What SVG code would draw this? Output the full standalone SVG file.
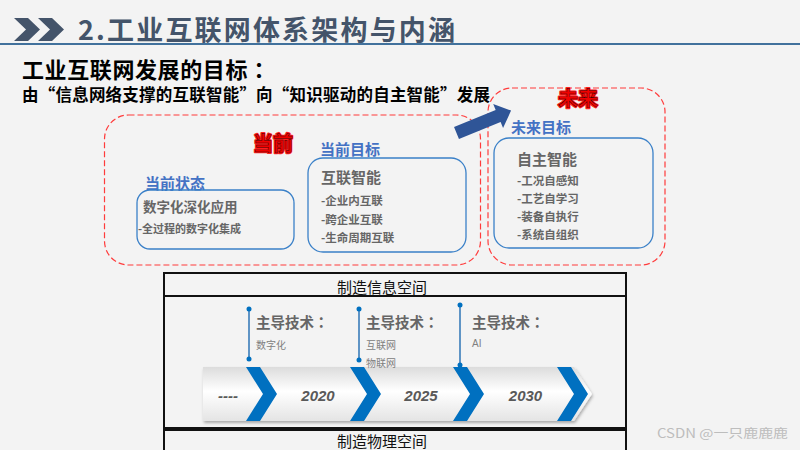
<svg xmlns="http://www.w3.org/2000/svg" width="800" height="450" viewBox="0 0 800 450">
<defs>
<style>
.cn{font-family:"Noto Sans CJK SC","Liberation Sans",sans-serif}
.tc{font-family:"Noto Sans CJK TC","Noto Sans CJK SC",sans-serif}
.hd{font-weight:bold;fill:#44546a}
.blue{font-weight:bold;fill:#4472c4;font-size:15px}
.gray{font-weight:bold;fill:#666666}
.dash{fill:none;stroke:#ff3b3b;stroke-width:1.2;stroke-dasharray:6 3}
.box{fill:none;stroke:#3a80c8;stroke-width:1.3}
.frame{fill:none;stroke:#111111;stroke-width:2}
.chev{fill:#0070c0}
.year{font-family:"Liberation Sans",Arial,sans-serif;font-weight:bold;font-style:italic;font-size:15px;fill:#595959;text-anchor:middle}
.lead{stroke:#2e75b6;stroke-width:1.5}
.dot{fill:#0070c0}
.tech{font-weight:bold;font-size:14.5px;fill:#666666}
.sub{font-size:10px;fill:#808080}
.glow{font-size:20px;font-weight:bold;fill:#ff0000;stroke:#ff2020;stroke-width:2.5;stroke-linejoin:round}
.red{font-size:20px;font-weight:bold;fill:#f00000;stroke:#3a0000;stroke-width:0.45}
</style>
<linearGradient id="band" x1="0" y1="0" x2="0" y2="1">
<stop offset="0" stop-color="#dcdcdc"/>
<stop offset="0.45" stop-color="#ffffff"/>
<stop offset="1" stop-color="#e4e4e4"/>
</linearGradient>
<filter id="sh" x="-5%" y="-20%" width="110%" height="150%">
<feDropShadow dx="1" dy="2" stdDeviation="1.5" flood-color="#000" flood-opacity="0.3"/>
</filter>
</defs>
<rect x="0" y="0" width="800" height="450" fill="#f3f3f3"/>

<g id="header">
<polygon fill="#44546a" points="14,18 28,18 40,29.5 28,41 14,41 26,29.5"/>
<polygon fill="#44546a" points="38,18 52,18 64,29.5 52,41 38,41 50,29.5"/>
<text class="cn hd" x="78" y="40" font-size="27" textLength="377" lengthAdjust="spacing">2.工业互联网体系架构与内涵</text>
<line x1="0" y1="44" x2="800" y2="44" stroke="#41719c" stroke-width="2"/>
</g>

<g id="subtitle">
<text class="cn" x="22" y="78" font-size="22" font-weight="bold" fill="#000" textLength="248" lengthAdjust="spacing">工业互联网发展的目标<tspan class="tc">：</tspan></text>
<text class="cn" x="22" y="101" font-size="16.5" font-weight="bold" fill="#000" textLength="468" lengthAdjust="spacing">由“信息网络支撑的互联智能”向“知识驱动的自主智能”发展</text>
</g>

<g id="current">
<rect class="dash" x="104.5" y="115" width="376" height="150" rx="24"/>
<text class="cn glow" x="253" y="151">当前</text>
<text class="cn red" x="253" y="151">当前</text>
</g>

<g id="current-state">
<text class="cn blue" x="145" y="189">当前状态</text>
<rect class="box" x="137" y="190" width="157" height="59" rx="13"/>
<text class="cn gray" x="143" y="212" font-size="13.5">数字化深化应用</text>
<text class="cn gray" x="138" y="233" font-size="11">-全过程的数字化集成</text>
</g>

<g id="current-goal">
<text class="cn blue" x="320" y="155">当前目标</text>
<rect class="box" x="308" y="158" width="158" height="94" rx="15"/>
<text class="cn gray" x="321" y="183" font-size="15">互联智能</text>
<text class="cn gray" x="321" y="205" font-size="11.5">-企业内互联</text>
<text class="cn gray" x="321" y="224" font-size="11.5">-跨企业互联</text>
<text class="cn gray" x="321" y="242" font-size="11.5">-生命周期互联</text>
</g>

<g id="future">
<rect class="dash" x="488" y="88" width="177" height="177" rx="24"/>
<text class="cn glow" x="558" y="106">未来</text>
<text class="cn red" x="558" y="106">未来</text>
</g>

<g id="future-goal">
<text class="cn blue" x="511" y="133">未来目标</text>
<rect class="box" x="494" y="138" width="159" height="110" rx="15"/>
<text class="cn gray" x="517" y="165" font-size="15">自主智能</text>
<text class="cn gray" x="517" y="185" font-size="11.5">-工况自感知</text>
<text class="cn gray" x="517" y="203" font-size="11.5">-工艺自学习</text>
<text class="cn gray" x="517" y="221" font-size="11.5">-装备自执行</text>
<text class="cn gray" x="517" y="239" font-size="11.5">-系统自组织</text>
</g>

<g id="connectors">
<polygon fill="#2f5597" transform="translate(456.5,133) rotate(-22.3)" points="0,-6.5 45,-6.5 45,-13 59,0 45,13 45,6.5 0,6.5"/>
</g>

<g id="frames">
<rect class="frame" x="164" y="273" width="462" height="23"/>
<rect class="frame" x="164" y="296" width="462" height="132"/>
<rect class="frame" x="164" y="430" width="462" height="30"/>
<text class="cn" x="382" y="293" font-size="15" fill="#111" text-anchor="middle">制造信息空间</text>
<text class="cn" x="382" y="447" font-size="15" fill="#111" text-anchor="middle">制造物理空间</text>
</g>

<g id="timeline">
<polygon fill="url(#band)" filter="url(#sh)" points="203,367 574,367 592,394 574,421 203,421"/>
<polygon class="chev" points="246,367 260,367 277,394 260,421 246,421 263,394"/>
<polygon class="chev" points="350,367 364,367 381,394 364,421 350,421 367,394"/>
<polygon class="chev" points="453,367 467,367 484,394 467,421 453,421 470,394"/>
<polygon class="chev" points="557,367 571,367 588,394 571,421 557,421 574,394"/>
<text class="year" x="228" y="401">----</text>
<text class="year" x="318" y="401">2020</text>
<text class="year" x="421" y="401">2025</text>
<text class="year" x="525.5" y="401">2030</text>
</g>

<g id="tech1">
<line class="lead" x1="249" y1="309" x2="249" y2="359"/>
<circle class="dot" cx="249" cy="309" r="2.5"/>
<circle class="dot" cx="249" cy="359" r="2.5"/>
<text class="cn tech" x="256" y="328">主导技术<tspan class="tc">：</tspan></text>
<text class="cn sub" x="256" y="349">数字化</text>
</g>
<g id="tech2">
<line class="lead" x1="359" y1="309" x2="359" y2="360"/>
<circle class="dot" cx="359" cy="309" r="2.5"/>
<circle class="dot" cx="359" cy="360" r="2.5"/>
<text class="cn tech" x="366" y="328">主导技术<tspan class="tc">：</tspan></text>
<text class="cn sub" x="366" y="349">互联网</text>
<text class="cn sub" x="366" y="367">物联网</text>
</g>
<g id="tech3">
<line class="lead" x1="460" y1="305" x2="460" y2="365"/>
<circle class="dot" cx="460" cy="305" r="2.5"/>
<circle class="dot" cx="460" cy="365" r="2.5"/>
<text class="cn tech" x="472" y="328">主导技术<tspan class="tc">：</tspan></text>
<text class="sub" x="472" y="347" font-family="Liberation Sans, Arial, sans-serif">AI</text>
</g>

<text class="cn" x="657" y="438" font-size="12.5" fill="#bdbdbd" textLength="131" lengthAdjust="spacingAndGlyphs">CSDN @一只鹿鹿鹿</text>
</svg>
